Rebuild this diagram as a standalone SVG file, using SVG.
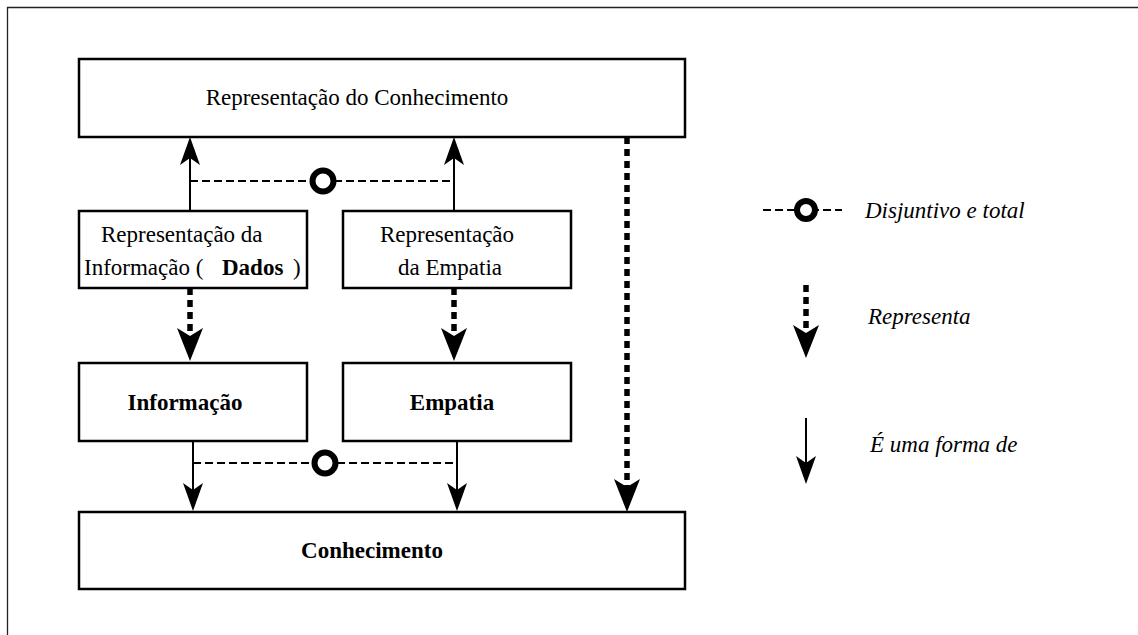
<svg xmlns="http://www.w3.org/2000/svg" width="1138" height="635" viewBox="0 0 1138 635">
  <style>
    .box { fill: #fff; stroke: #000; stroke-width: 2.5; }
    .t { font-family: "Liberation Serif", "Times New Roman", serif; font-size: 23px; fill: #000; }
    .b { font-weight: bold; }
    .i { font-style: italic; }
    .solid { fill: none; stroke: #000; stroke-width: 2; }
    .thick { fill: none; stroke: #000; stroke-width: 5.5; stroke-dasharray: 7 5; }
    .thin { fill: none; stroke: #000; stroke-width: 2; stroke-dasharray: 8 4; }
    .ring { fill: #fff; stroke: #000; stroke-width: 6; }
  </style>
  <defs>
    <marker id="arrS" markerUnits="userSpaceOnUse" viewBox="0 -10 28 20" markerWidth="28" markerHeight="20" refX="7" refY="0" orient="auto">
      <path d="M0,-10 L28,0 L0,10 L7,0 Z" fill="#000"/>
    </marker>
    <marker id="arrD" markerUnits="userSpaceOnUse" viewBox="0 -13 33 26" markerWidth="33" markerHeight="26" refX="8" refY="0" orient="auto">
      <path d="M0,-13 L33,0 L0,13 L8,0 Z" fill="#000"/>
    </marker>
  </defs>
  <rect width="1138" height="635" fill="#fff"/>
  <path d="M7.5,635 L7.5,7.5 L1138,7.5" fill="none" stroke="#222" stroke-width="1.3"/>

  <g id="connectors">
    <path class="solid" d="M190,211 L190,158" marker-end="url(#arrS)"/>
    <path class="solid" d="M454,211 L454,158" marker-end="url(#arrS)"/>
    <path class="thin" d="M190,181 L450,181"/>
    <circle class="ring" cx="323" cy="181" r="10.5"/>
    <path class="thick" d="M190,288 L190,336" marker-end="url(#arrD)"/>
    <path class="thick" d="M454,288 L454,336" marker-end="url(#arrD)"/>
    <path class="thick" d="M627,137 L627,487" marker-end="url(#arrD)"/>
    <path class="solid" d="M193,441 L193,490" marker-end="url(#arrS)"/>
    <path class="solid" d="M457,441 L457,490" marker-end="url(#arrS)"/>
    <path class="thin" d="M193,463 L457,463"/>
    <circle class="ring" cx="325" cy="463" r="10.5"/>
  </g>

  <g id="rep-conhecimento">
    <rect class="box" x="79" y="59" width="606" height="78"/>
    <text class="t" x="357" y="105" text-anchor="middle">Representação do Conhecimento</text>
  </g>
  <g id="rep-informacao">
    <rect class="box" x="79" y="211" width="228" height="77"/>
    <text class="t" x="101" y="242">Representação da</text>
    <text class="t" y="275"><tspan x="84">Informação (</tspan><tspan x="222" class="b">Dados</tspan><tspan x="293">)</tspan></text>
  </g>
  <g id="rep-empatia">
    <rect class="box" x="343" y="211" width="228" height="77"/>
    <text class="t" x="447" y="242" text-anchor="middle">Representação</text>
    <text class="t" x="450" y="275" text-anchor="middle">da Empatia</text>
  </g>
  <g id="informacao">
    <rect class="box" x="79" y="363" width="228" height="78"/>
    <text class="t b" x="185" y="410" text-anchor="middle">Informação</text>
  </g>
  <g id="empatia">
    <rect class="box" x="343" y="363" width="228" height="78"/>
    <text class="t b" x="452" y="410" text-anchor="middle">Empatia</text>
  </g>
  <g id="conhecimento">
    <rect class="box" x="79" y="512" width="606" height="77"/>
    <text class="t b" x="372" y="558" text-anchor="middle">Conhecimento</text>
  </g>

  <g id="legend">
    <path class="thin" d="M763,210 L842,210"/>
    <circle class="ring" cx="806" cy="210" r="9" stroke-width="5.5"/>
    <text class="t i" x="865" y="218">Disjuntivo e total</text>
    <path class="thick" d="M806,285 L806,333" marker-end="url(#arrD)"/>
    <text class="t i" x="868" y="324">Representa</text>
    <path class="solid" d="M806,418 L806,463" marker-end="url(#arrS)"/>
    <text class="t i" x="870" y="452">É uma forma de</text>
  </g>
</svg>
